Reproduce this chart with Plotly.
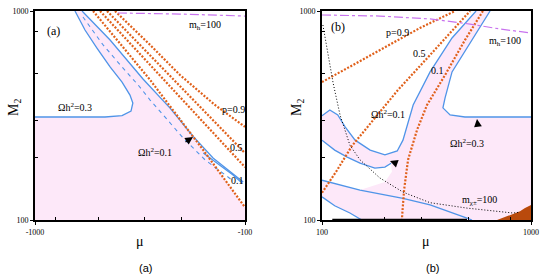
import plotly.graph_objects as go

# ---------------- Panel (a): mu < 0 (|mu| on reversed log axis) ----------------
a_omega03_mu = [645, 578, 507, 439, 385, 353, 342, 349, 385, 464, 1000]
a_omega03_M2 = [1000, 811, 665, 540, 457, 396, 363, 332, 316, 311, 311]
a_omega01_mu = [597, 439, 306, 228, 177, 142, 102]
a_omega01_M2 = [1000, 726, 473, 344, 252, 198, 152]
a_omega01b_mu = [158, 114, 103]
a_omega01b_M2 = [209, 164, 150]
a_dash_mu = [591, 474, 385, 323, 283, 197, 155, 115]
a_dash_M2 = [936, 688, 540, 443, 375, 247, 194, 155]
a_pA_mu = [529, 283, 158, 100]
a_pA_M2 = [1000, 468, 216, 115]
a_pB_mu = [490, 228, 100]
a_pB_M2 = [1000, 438, 179]
a_pC_mu = [454, 215, 100]
a_pC_M2 = [1000, 462, 209]
a_pD_mu = [416, 283, 204, 139, 100]
a_pD_M2 = [1000, 688, 494, 355, 279]
a_mh_mu = [403, 204, 100]
a_mh_M2 = [978, 967, 946]

# ---------------- Panel (b): mu > 0 ----------------
b_O_mu = [100, 109, 119, 129, 144, 170, 200, 229, 244, 258, 273, 329, 419, 546]
b_O_M2 = [315, 336, 318, 279, 241, 216, 205, 214, 241, 294, 355, 511, 743, 1000]
b_R_mu = [637, 528, 419, 388, 379, 410, 483, 1000]
b_R_M2 = [1000, 743, 511, 384, 344, 318, 311, 311]
b_I_mu = [100, 115, 132, 152, 179, 200, 214]
b_I_M2 = [241, 216, 200, 187, 177, 179, 187]
b_hole_mu = [216, 200, 170]
b_hole_M2 = [170, 152, 144]
b_L1_mu = [100, 152, 244, 329, 494, 522]
b_L1_M2 = [155, 139, 127, 118, 102.2, 100]
b_L2_mu = [100, 115, 136, 155]
b_L2_M2 = [129, 117, 108, 100]
b_p09_mu = [100, 189, 294, 433]
b_p09_M2 = [457, 651, 829, 1000]
b_p05_mu = [100, 118, 139, 161, 231, 329, 511]
b_p05_M2 = [135, 173, 226, 270, 419, 616, 1000]
b_p01_mu = [589, 483, 388, 318, 285, 258, 247, 241]
b_p01_M2 = [1000, 726, 494, 355, 270, 194, 139, 100]
b_chi_mu = [101, 107, 113, 122, 136, 152, 189, 244, 329, 494, 820, 886]
b_chi_M2 = [857, 616, 453, 318, 228, 194, 159, 136, 121, 114, 108, 109]
b_mh_mu = [100, 189, 329, 511, 711, 1000]
b_mh_M2 = [957, 946, 916, 866, 820, 785]
b_brown_mu = [688, 751, 820, 886, 936, 1000, 1000]
b_brown_M2 = [100, 103.4, 106.8, 110, 114, 118, 100]
b_lep_mu = [112, 494]
b_lep_M2 = [100, 100]

PINK = "#fde8f9"
BLUE = "#4f94e8"
ORANGE = "#e0601a"
VIOLET = "#c873ee"
SERIF = "Liberation Serif"
ODOT = "2px,1.6px"

fig = go.Figure()

def line(x, y, ax, color, width, dash="solid"):
    fig.add_trace(go.Scatter(x=x, y=y, mode="lines", xaxis=ax[0], yaxis=ax[1],
                             line=dict(color=color, width=width, dash=dash),
                             hoverinfo="skip", showlegend=False))

def fill(x, y, ax, color):
    fig.add_trace(go.Scatter(x=x, y=y, mode="lines", fill="toself", fillcolor=color,
                             xaxis=ax[0], yaxis=ax[1], line=dict(width=0, color=color),
                             hoverinfo="skip", showlegend=False))

A = ("x", "y")
B = ("x2", "y2")

# pink region (a)
pa_x = a_omega03_mu + [1000, 100] + a_pA_mu[:1:-1] + a_omega01_mu[4::-1]
pa_y = a_omega03_M2 + [100, 100] + a_pA_M2[:1:-1] + a_omega01_M2[4::-1]
fill(pa_x, pa_y, A, PINK)

line(a_omega03_mu, a_omega03_M2, A, BLUE, 1.3)
line(a_omega01_mu, a_omega01_M2, A, BLUE, 1.3)
line(a_omega01b_mu, a_omega01b_M2, A, BLUE, 1.3)
line(a_dash_mu, a_dash_M2, A, BLUE, 1.1, "4px,4px")
for mx, my in [(a_pA_mu, a_pA_M2), (a_pB_mu, a_pB_M2), (a_pC_mu, a_pC_M2), (a_pD_mu, a_pD_M2)]:
    line(mx, my, A, ORANGE, 2.2, ODOT)
line(a_mh_mu, a_mh_M2, A, VIOLET, 1.2, "dashdot")

# pink region (b)
pb_x = b_O_mu + b_R_mu + [1000] + b_L2_mu[::-1]
pb_y = b_O_M2 + b_R_M2 + [100] + b_L2_M2[::-1]
fill(pb_x, pb_y, B, PINK)
hole_x = b_I_mu + b_hole_mu + b_L1_mu[1::-1]
hole_y = b_I_M2 + b_hole_M2 + b_L1_M2[1::-1]
fill(hole_x, hole_y, B, "white")
fill(b_brown_mu, b_brown_M2, B, "#b94a0c")

for mx, my in [(b_O_mu, b_O_M2), (b_R_mu, b_R_M2), (b_I_mu, b_I_M2),
               (b_L1_mu, b_L1_M2), (b_L2_mu, b_L2_M2)]:
    line(mx, my, B, BLUE, 1.3)
for mx, my in [(b_p09_mu, b_p09_M2), (b_p05_mu, b_p05_M2), (b_p01_mu, b_p01_M2)]:
    line(mx, my, B, ORANGE, 2.2, ODOT)
line(b_chi_mu, b_chi_M2, B, "black", 1, "1px,2px")
line(b_mh_mu, b_mh_M2, B, VIOLET, 1.2, "dashdot")
line(b_lep_mu, b_lep_M2, B, "black", 2.5)

W, H = 545, 280
def P(x, y):
    return x / W, 1 - y / H

ax_common = dict(type="log", showline=True, linewidth=2, linecolor="black", mirror=True,
                 automargin=False,
                 ticks="outside", ticklen=3, tickcolor="black", showgrid=False, zeroline=False,
                 tickfont=dict(family=SERIF, size=8, color="black"),
                 minor=dict(ticks="inside", ticklen=3, tickcolor="black",
                            tickvals=[200, 300, 500, 800]))

ydom = [1 - 220 / H, 1 - 11 / H]
fig.update_layout(
    width=W, height=H, margin=dict(l=0, r=0, t=0, b=0, autoexpand=False),
    paper_bgcolor="white", plot_bgcolor="white",
    xaxis=dict(ax_common, domain=[35 / W, 245 / W], range=[3, 2],
               tickvals=[1000, 100], ticktext=["-1000", "-100"]),
    yaxis=dict(ax_common, domain=ydom, range=[2, 3], tickvals=[100, 1000],
               ticktext=["100", "1000"]),
    xaxis2=dict(ax_common, domain=[322 / W, 531 / W], range=[2, 3], anchor="y2",
                tickvals=[100, 1000], ticktext=["100", "1000"]),
    yaxis2=dict(ax_common, domain=ydom, range=[2, 3], anchor="x2",
                tickvals=[100, 1000], ticktext=["100", "1000"]),
)

ann = []
def txt(x, y, s, size=10, family=SERIF, angle=0):
    px, py = P(x, y)
    ann.append(dict(x=px, y=py, xref="paper", yref="paper", text=s, showarrow=False,
                    textangle=angle, font=dict(family=family, size=size, color="black"),
                    xanchor="center", yanchor="middle"))

def arrow(x, y, dx, dy):
    px, py = P(x, y)
    ann.append(dict(x=px, y=py, xref="paper", yref="paper", text="", showarrow=True,
                    ax=dx, ay=dy, arrowhead=2, arrowsize=1.3, arrowwidth=1.2,
                    arrowcolor="black"))

# panel (a) texts
txt(53, 31, "(a)", 12)
txt(205, 25, "m<sub>h</sub>=100", 10)
txt(75, 107, "Ωh<sup>2</sup>=0.3", 10)
txt(233, 110, "p=0.9", 10)
txt(236, 147, "0.5", 10)
txt(237, 180, "0.1", 10)
txt(155, 152, "Ωh<sup>2</sup>=0.1", 10)
arrow(193, 137, -9, 6)
# panel (b) texts
txt(338, 27, "(b)", 12)
txt(397, 32, "p=0.9", 10)
txt(419, 53, "0.5", 10)
txt(437, 70, "0.1", 10)
txt(505, 41, "m<sub>h</sub>=100", 10)
txt(388, 114, "Ωh<sup>2</sup>=0.1", 10)
txt(467, 143, "Ωh<sup>2</sup>=0.3", 10)
txt(479, 200, "m<sub>χ±</sub>=100", 10)
arrow(390, 161, 8, 3)
arrow(477, 119, 1, 8)
# axis titles and captions
txt(140, 241, "μ", 14)
txt(426, 241, "μ", 14)
txt(15, 108, "M<sub>2</sub>", 14, angle=-90)
txt(298, 108, "M<sub>2</sub>", 14, angle=-90)
txt(145, 268, "(a)", 11, "Liberation Sans")
txt(432, 268, "(b)", 11, "Liberation Sans")
fig.update_layout(annotations=ann)

fig.write_html("out.html", config={"displayModeBar": False},
               post_script="document.body.style.margin='0';document.body.style.overflow='hidden';")
